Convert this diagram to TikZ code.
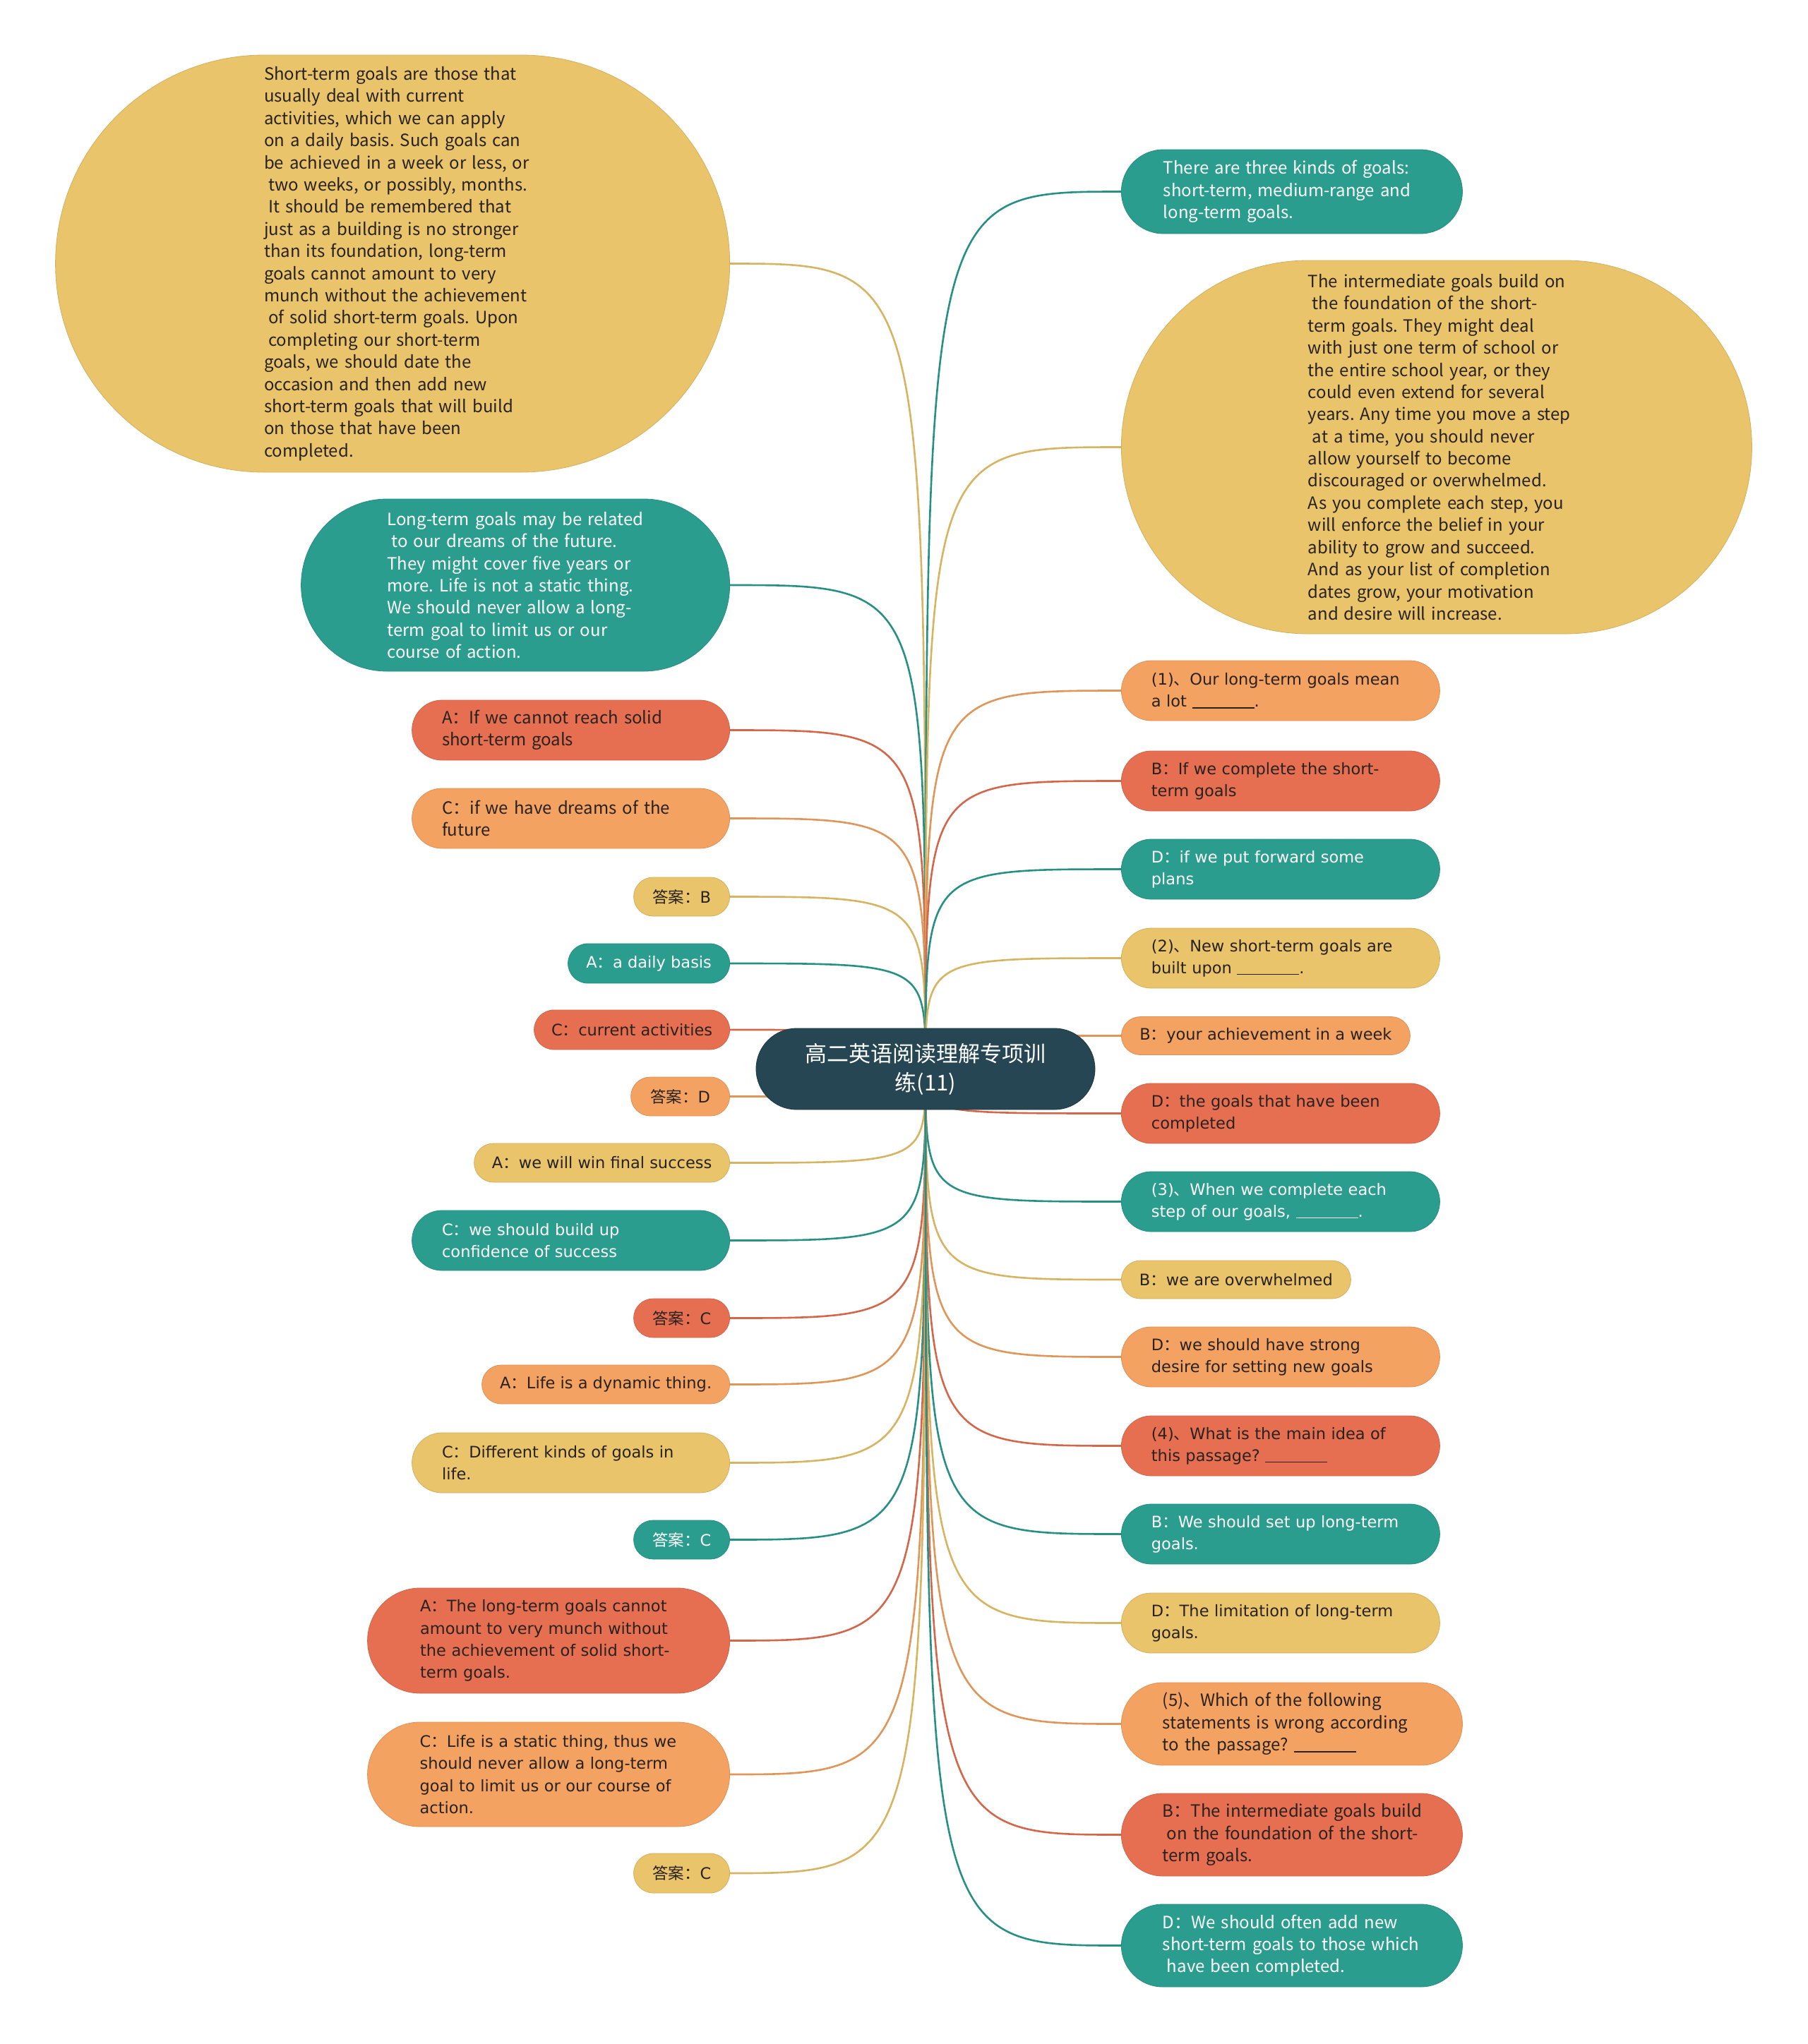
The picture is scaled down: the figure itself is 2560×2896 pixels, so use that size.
\documentclass[tikz,border=0pt]{standalone}
\usepackage{fontspec}
\usetikzlibrary{shapes.misc,backgrounds}
\newfontfamily\narrowf{Noto Sans CJK SC}
\newfontfamily\widef{DejaVu Sans}
\newfontfamily\cjk{Noto Sans CJK SC}
\definecolor{tealc}{RGB}{42,157,143}
\definecolor{yellowc}{RGB}{233,196,106}
\definecolor{orangec}{RGB}{244,162,97}
\definecolor{redc}{RGB}{231,111,81}
\definecolor{rootc}{RGB}{38,70,83}
\definecolor{inkc}{RGB}{40,34,30}
\newcommand{\fc}{{\cjk ：}}
\newcommand{\dun}{{\cjk 、}}
\newcommand{\blank}{\rule[-2pt]{88pt}{1.3pt}}
\newcommand{\lead}{\hspace*{.25em}}
\frenchspacing

\begin{document}
\begin{tikzpicture}[x=1pt,y=-1pt,
  box/.style={rounded rectangle,inner xsep=0pt,inner ysep=0pt,align=left,line width=.8pt,
    execute at begin node={\rightskip=-60pt plus 1fil\hyphenpenalty=10000}},
  wide/.style={font=\widef\fontsize{22.5}{31.4}\selectfont},
  narrow/.style={font=\narrowf\fontsize{24}{31.4}\selectfont},
  sz/.style 2 args={minimum width=#1pt,minimum height=#2pt},
  tw/.style={text width=#1pt},
  tealbox/.style={box,fill=tealc,draw=tealc!90!black,text=white},
  yellowbox/.style={box,fill=yellowc,draw=yellowc!90!black,text=inkc},
  orangebox/.style={box,fill=orangec,draw=orangec!90!black,text=inkc},
  redbox/.style={box,fill=redc,draw=redc!90!black,text=inkc},
  link/.style={line width=2.6pt}]
\useasboundingbox (0,0) rectangle (2560,2896);

% centre
\node[box,fill=rootc,draw=rootc!80!black,text=white,align=center,sz={480}{115},
  font=\cjk\fontsize{31}{41}\selectfont] (root) at (1311,1514.5) {高二英语阅读理解专项训\\练(11)};

% left side
\node[yellowbox,narrow,sz={955}{591},tw=364,anchor=east] (shortterm) at (1034,373.5) {Short-term goals are those that\\usually deal with current\\activities, which we can apply\\on a daily basis. Such goals can\\be achieved in a week or less, or\\\lead two weeks, or possibly, months.\\\lead It should be remembered that\\just as a building is no stronger\\than its foundation, long-term\\goals cannot amount to very\\munch without the achievement\\\lead of solid short-term goals. Upon\\\lead completing our short-term\\goals, we should date the\\occasion and then add new\\short-term goals that will build\\on those that have been\\completed.};
\node[tealbox,narrow,sz={607}{244},tw=363,anchor=east] (longterm) at (1034,829) {Long-term goals may be related\\\lead to our dreams of the future.\\They might cover five years or\\more. Life is not a static thing.\\We should never allow a long-\\term goal to limit us or our\\course of action.};
\node[redbox,narrow,sz={450}{85},tw=365,anchor=east] (q1a) at (1034,1034.5) {A\fc If we cannot reach solid\\short-term goals};
\node[orangebox,narrow,sz={450}{85},tw=365,anchor=east] (q1c) at (1034,1159.5) {C\fc if we have dreams of the\\future};
\node[yellowbox,wide,sz={136}{55},anchor=east] (ans1) at (1034,1270.5) {{\cjk 答案：}B};
\node[tealbox,wide,sz={229}{56},anchor=east] (q2a) at (1034,1365) {A\fc a daily basis};
\node[redbox,wide,sz={277}{56},anchor=east] (q2c) at (1034,1459) {C\fc current activities};
\node[orangebox,wide,sz={140}{55},anchor=east] (ans2) at (1034,1553.5) {{\cjk 答案：}D};
\node[yellowbox,wide,sz={362}{55},anchor=east] (q3a) at (1034,1647.5) {A\fc we will win final success};
\node[tealbox,wide,sz={450}{85},tw=365,anchor=east] (q3c) at (1034,1757.5) {C\fc we should build up\\confidence of success};
\node[redbox,wide,sz={136}{55},anchor=east] (ans3) at (1034,1867.5) {{\cjk 答案：}C};
\node[orangebox,wide,sz={351}{55},anchor=east] (q4a) at (1034,1961.5) {A\fc Life is a dynamic thing.};
\node[yellowbox,wide,sz={450}{85},tw=365,anchor=east] (q4c) at (1034,2072.5) {C\fc Different kinds of goals in\\life.};
\node[tealbox,wide,sz={136}{55},anchor=east] (ans4) at (1034,2181.5) {{\cjk 答案：}C};
\node[redbox,wide,sz={513}{149},tw=364,anchor=east] (q5a) at (1034,2324.5) {A\fc The long-term goals cannot\\amount to very munch without\\the achievement of solid short-\\term goals.};
\node[orangebox,wide,sz={513}{148},tw=365,anchor=east] (q5c) at (1034,2514) {C\fc Life is a static thing, thus we\\should never allow a long-term\\goal to limit us or our course of\\action.};
\node[yellowbox,wide,sz={136}{56},anchor=east] (ans5) at (1034,2654) {{\cjk 答案：}C};

% right side
\node[tealbox,narrow,sz={483}{119},tw=364,anchor=west] (kinds) at (1588,271.5) {There are three kinds of goals:\\short-term, medium-range and\\long-term goals.};
\node[yellowbox,narrow,sz={893}{529},tw=364,anchor=west] (middle) at (1588,633.5) {The intermediate goals build on\\\lead the foundation of the short-\\term goals. They might deal\\with just one term of school or\\the entire school year, or they\\could even extend for several\\years. Any time you move a step\\\lead at a time, you should never\\allow yourself to become\\discouraged or overwhelmed.\\As you complete each step, you\\will enforce the belief in your\\ability to grow and succeed.\\And as your list of completion\\dates grow, your motivation\\and desire will increase.};
\node[orangebox,wide,sz={451}{85},tw=366,anchor=west] (q1) at (1588,978.5) {(1)\dun Our long-term goals mean\\a lot \blank.};
\node[redbox,wide,sz={451}{85},tw=366,anchor=west] (q1b) at (1588,1106.5) {B\fc If we complete the short-\\term goals};
\node[tealbox,wide,sz={451}{85},tw=366,anchor=west] (q1d) at (1588,1231.5) {D\fc if we put forward some\\plans};
\node[yellowbox,wide,sz={451}{85},tw=366,anchor=west] (q2) at (1588,1357.5) {(2)\dun New short-term goals are\\built upon \blank.};
\node[orangebox,wide,sz={409}{54},anchor=west] (q2b) at (1588,1467.5) {B\fc your achievement in a week};
\node[redbox,wide,sz={451}{85},tw=366,anchor=west] (q2d) at (1588,1577.5) {D\fc the goals that have been\\completed};
\node[tealbox,wide,sz={451}{85},tw=366,anchor=west] (q3) at (1588,1702.5) {(3)\dun When we complete each\\step of our goals, \blank.};
\node[yellowbox,wide,sz={325}{54},anchor=west] (q3b) at (1588,1813) {B\fc we are overwhelmed};
\node[orangebox,wide,sz={451}{85},tw=366,anchor=west] (q3d) at (1588,1922.5) {D\fc we should have strong\\desire for setting new goals};
\node[redbox,wide,sz={451}{85},tw=366,anchor=west] (q4) at (1588,2048.5) {(4)\dun What is the main idea of\\this passage? \blank};
\node[tealbox,wide,sz={451}{85},tw=366,anchor=west] (q4b) at (1588,2173.5) {B\fc We should set up long-term\\goals.};
\node[yellowbox,wide,sz={451}{85},tw=366,anchor=west] (q4d) at (1588,2299.5) {D\fc The limitation of long-term\\goals.};
\node[orangebox,narrow,sz={483}{117},tw=366,anchor=west] (q5) at (1588,2442.5) {(5)\dun Which of the following\\statements is wrong according\\to the passage? \blank};
\node[redbox,narrow,sz={483}{117},tw=366,anchor=west] (q5b) at (1588,2599.5) {B\fc The intermediate goals build\\\lead on the foundation of the short-\\term goals.};
\node[tealbox,narrow,sz={483}{117},tw=366,anchor=west] (q5d) at (1588,2756.5) {D\fc We should often add new\\short-term goals to those which\\\lead have been completed.};

% connectors
\begin{pgfonlayer}{background}
\foreach \n/\col in {shortterm/yellowc,longterm/tealc,q1a/redc,q1c/orangec,ans1/yellowc,
    q2a/tealc,q2c/redc,ans2/orangec,q3a/yellowc,q3c/tealc,ans3/redc,q4a/orangec,
    q4c/yellowc,ans4/tealc,q5a/redc,q5c/orangec,ans5/yellowc}
  \draw[link,\col!92!black] (root.center) .. controls (root.center |- \n.east) .. (\n.east);
\foreach \n/\col in {kinds/tealc,middle/yellowc,q1/orangec,q1b/redc,q1d/tealc,q2/yellowc,
    q2b/orangec,q2d/redc,q3/tealc,q3b/yellowc,q3d/orangec,q4/redc,q4b/tealc,
    q4d/yellowc,q5/orangec,q5b/redc,q5d/tealc}
  \draw[link,\col!92!black] (root.center) .. controls (root.center |- \n.west) .. (\n.west);
\end{pgfonlayer}
\end{tikzpicture}
\end{document}
